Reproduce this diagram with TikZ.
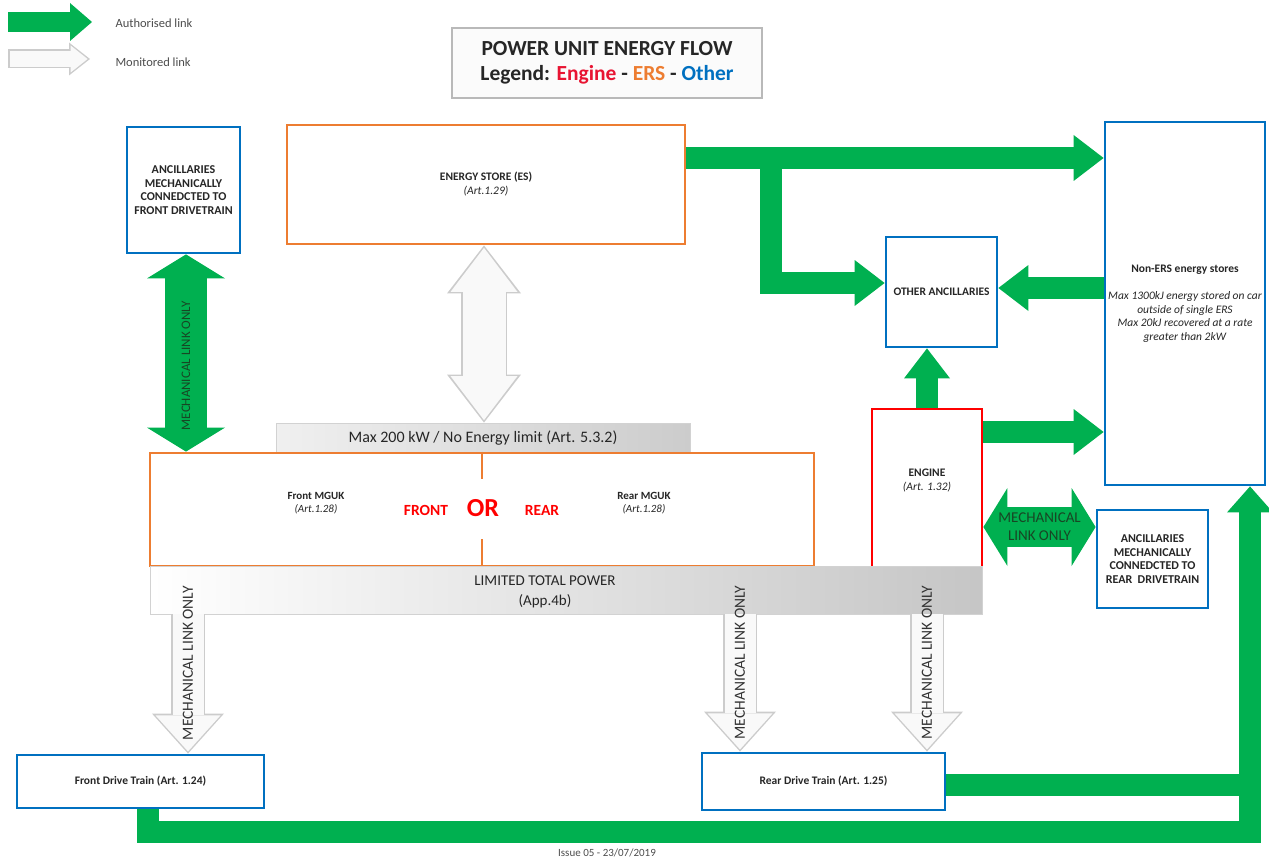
\documentclass[tikz,border=0pt]{standalone}
\usepackage{fontspec}
\setmainfont{Carlito}
\usetikzlibrary{arrows.meta}

\definecolor{linkgreen}{RGB}{0,176,80}
\definecolor{ersorange}{RGB}{237,125,49}
\definecolor{otherblue}{RGB}{0,112,192}
\definecolor{enginered}{RGB}{255,0,0}
\definecolor{legendred}{RGB}{232,20,50}
\definecolor{labelgreen}{RGB}{24,70,36}

\begin{document}
\begin{tikzpicture}[x=1pt,y=-1pt,
    unitbox/.style={draw,rectangle,line width=2.8pt,fill=white,align=center,inner sep=2pt,
      text=black!85,font=\fontsize{11.5}{14}\selectfont},
    ersbox/.style={unitbox,draw=ersorange},
    otherbox/.style={unitbox,draw=otherblue},
    enginebox/.style={unitbox,draw=enginered},
    anctext/.style={font=\fontsize{12}{13.5}\selectfont\bfseries},
    limitbar/.style={draw=gray!35,line width=0.8pt,left color=white,right color=gray!45,text=black!85},
    authlink/.style={linkgreen,line width=22pt,-{Triangle[width=46pt,length=30pt,line width=0pt]}},
    mechlink/.style={linkgreen,line width=40pt,
      {Triangle[width=78pt,length=24pt,line width=0pt]}-{Triangle[width=78pt,length=24pt,line width=0pt]}},
    monedge/.style={gray!40,line width=34pt,>={Triangle[width=72pt,length=40pt,line width=0pt]}},
    monfill/.style={gray!5,line width=31pt,>={Triangle[width=65pt,length=36pt,line width=0pt]}},
    mechtext/.style={rotate=90,font=\fontsize{15.5}{18}\selectfont,text=black!80}
  ]
  \useasboundingbox (0,0) rectangle (1269,861);

  % legend
  \node[anchor=west,font=\fontsize{12.5}{15}\selectfont,text=black!70] (authtxt) at (112,23) {Authorised link};
  \node[anchor=west,font=\fontsize{12.5}{15}\selectfont,text=black!70] (montxt) at (112,62) {Monitored link};
  \coordinate (authkey) at (8,22);
  \coordinate (monkey) at (8,59);
  \draw[linkgreen,line width=20pt,-{Triangle[width=38pt,length=22pt,line width=0pt]},shorten >=20pt]
    (authkey) -- (authkey -| authtxt.west);
  \draw[monedge,->,line width=19pt,>={Triangle[width=33pt,length=21pt,line width=0pt]},shorten >=22pt]
    (monkey) -- (monkey -| montxt.west);
  \draw[monfill,->,line width=16pt,>={Triangle[width=27pt,length=17pt,line width=0pt]},shorten >=24.4pt,shorten <=1.5pt]
    (monkey) -- (monkey -| montxt.west);

  \node[draw=gray!55,line width=1.5pt,fill=gray!3,minimum width=310pt,minimum height=70pt,align=center,
    text=black!85,font=\fontsize{21.5}{25}\selectfont\bfseries] (title) at (607,63)
    {POWER UNIT ENERGY FLOW\\Legend: \textcolor{legendred}{Engine} - \textcolor{ersorange}{ERS} - \textcolor{otherblue}{Other}};

  % units
  \node[otherbox,anctext,minimum width=113pt,minimum height=126pt] (anfront) at (183.5,190)
    {ANCILLARIES\\MECHANICALLY\\CONNEDCTED TO\\FRONT DRIVETRAIN};
  \node[ersbox,minimum width=398pt,minimum height=119pt] (es) at (486,184.5)
    {\textbf{ENERGY STORE (ES)}\\\textit{(Art.1.29)}};
  \node[otherbox,minimum width=160pt,minimum height=363pt,font=\fontsize{11.5}{13.5}\selectfont] (nonERS) at (1185,303.5)
    {\textbf{Non-ERS energy stores}\\[13.5pt]\textit{Max 1300kJ energy stored on car}\\\textit{outside of single ERS}\\
     \textit{Max 20kJ recovered at a rate}\\\textit{greater than 2kW}};
  \node[otherbox,minimum width=111pt,minimum height=110pt] (otheranc) at (941.5,292) {\textbf{OTHER ANCILLARIES}};
  \node[enginebox,minimum width=110pt,minimum height=158pt] (engine) at (927,488)
    {\textbf{ENGINE}\\\textit{(Art. 1.32)}\\[2pt]};
  \node[otherbox,anctext,minimum width=111pt,minimum height=98pt] (anrear) at (1152.5,559)
    {ANCILLARIES\\MECHANICALLY\\CONNEDCTED TO\\REAR\ \ DRIVETRAIN};
  \node[otherbox,minimum width=247pt,minimum height=53pt] (fdt) at (140.5,781.5) {\textbf{Front Drive Train (Art. 1.24)}};
  \node[otherbox,minimum width=243pt,minimum height=57pt] (rdt) at (823.5,781.5) {\textbf{Rear Drive Train (Art. 1.25)}};

  % MGUK and limits
  \node[limitbar,left color=gray!12,right color=gray!40,minimum width=414pt,minimum height=30pt,
    font=\fontsize{16}{18}\selectfont] (maxbar) at (483,438) {Max 200 kW / No Energy limit (Art. 5.3.2)};
  \node[ersbox,minimum width=664pt,minimum height=113pt] (mguk) at (482,509.5) {};
  \draw[ersorange,line width=2.8pt] (mguk.north) -- ++(0,27);
  \draw[ersorange,line width=2.8pt] (mguk.south) -- ++(0,-28);
  \node[align=center,text=black!85,font=\fontsize{11}{13}\selectfont] (frontmguk) at (316,503) {\textbf{Front MGUK}\\\textit{(Art.1.28)}};
  \node[align=center,text=black!85,font=\fontsize{11}{13}\selectfont] (rearmguk) at (644,503) {\textbf{Rear MGUK}\\\textit{(Art.1.28)}};
  \node[text=enginered,font=\fontsize{15.5}{17}\selectfont\bfseries] (fronttxt) at (426,510) {FRONT};
  \node[text=enginered,font=\fontsize{26}{28}\selectfont\bfseries] (ortxt) at (483,508) {OR};
  \node[text=enginered,font=\fontsize{15.5}{17}\selectfont\bfseries] (reartxt) at (542,510) {REAR};
  \node[limitbar,minimum width=832pt,minimum height=48pt] (limbar) at (566,590) {};
  \node[align=center,text=black!85,font=\fontsize{15}{20}\selectfont] (limtxt) at (545,592) {LIMITED TOTAL POWER\\(App.4b)};

  \node[text=black!70,font=\fontsize{11}{13}\selectfont] (issue) at (607,853) {Issue 05 - 23/07/2019};

  % authorised links
  \coordinate (esout) at ([yshift=26.5pt]es.east);
  \coordinate (esbranch) at (esout -| 771,0);
  \draw[authlink] (esout) -- (esout -| nonERS.west);
  \draw[authlink] (esbranch) |- ([yshift=9pt]otheranc.west);
  \coordinate (oain) at ([yshift=4pt]otheranc.east);
  \draw[authlink] (nonERS.west |- oain) -- (oain);
  \draw[authlink] (engine.north) -- (engine.north |- otheranc.south);
  \coordinate (engout) at ([yshift=56pt]engine.east);
  \draw[authlink] (engout) -- (engout -| nonERS.west);
  \coordinate (loopright) at ([xshift=65pt]nonERS.south);
  \draw[authlink,-{Triangle[width=46pt,length=26pt,line width=0pt]}] ([xshift=7pt]fdt.south) -- ++(0,23) -| (loopright);
  \draw[linkgreen,line width=22pt] ([yshift=-3pt]rdt.east) -- ([yshift=-3pt]rdt.east -| loopright);

  % mechanical links
  \coordinate (engmech) at ([yshift=-39pt]engine.east);
  \draw[mechlink] (engmech) -- (engmech -| anrear.west)
    node[midway,align=center,text=labelgreen,font=\fontsize{15}{18}\selectfont] (mechrear) {MECHANICAL\\LINK ONLY};
  \coordinate (anfdown) at ([xshift=2.5pt]anfront.south);
  \draw[mechlink,line width=42pt] (anfdown) -- (anfdown |- mguk.north)
    node[pos=.565,mechtext,text=labelgreen,font=\fontsize{13}{15}\selectfont] (mechfrontanc) {MECHANICAL LINK ONLY};

  % monitored links
  \coordinate (esdown) at ([xshift=-2pt]es.south);
  \draw[monedge,<->,line width=46pt,>={Triangle[width=74pt,length=48pt,line width=0pt]}]
    (esdown) -- (esdown |- maxbar.north);
  \draw[monfill,<->,line width=43pt,>={Triangle[width=67pt,length=44pt,line width=0pt]},shorten >=2.5pt,shorten <=2.5pt]
    (esdown) -- (esdown |- maxbar.north);

  \draw[monedge,->] (limbar.south -| 188,0) -- (fdt.north -| 188,0);
  \draw[monfill,->,shorten >=2.2pt] (limbar.south -| 188,0) -- (fdt.north -| 188,0)
    node[pos=.35,mechtext] (mechfront) {MECHANICAL LINK ONLY};
  \draw[monedge,->] (limbar.south -| 740,0) -- (rdt.north -| 740,0);
  \draw[monfill,->,shorten >=2.2pt] (limbar.south -| 740,0) -- (rdt.north -| 740,0)
    node[pos=.35,mechtext] (mechmguk) {MECHANICAL LINK ONLY};
  \draw[monedge,->] (limbar.south -| engine.south) -- (rdt.north -| engine.south);
  \draw[monfill,->,shorten >=2.2pt] (limbar.south -| engine.south) -- (rdt.north -| engine.south)
    node[pos=.35,mechtext] (mechengine) {MECHANICAL LINK ONLY};
\end{tikzpicture}
\end{document}
